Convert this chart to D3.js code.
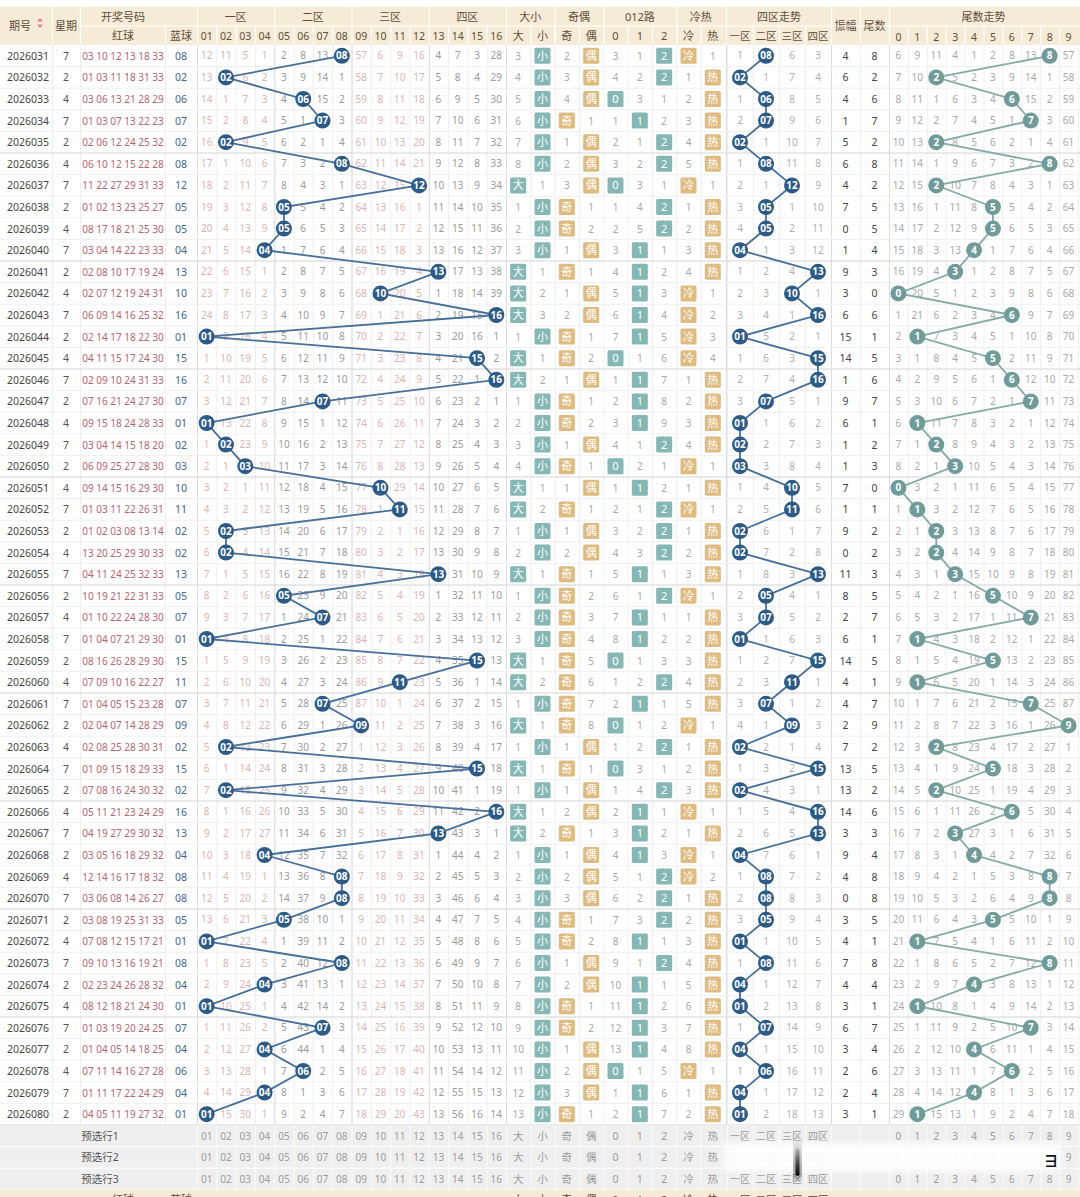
<!DOCTYPE html>
<html>
<head>
<meta charset="utf-8">
<script src="https://cdn.jsdelivr.net/npm/d3@7/dist/d3.min.js"></script>
<style>
  body { margin: 0; background: #fff; }
  svg { display: block; }
  text { font-family: "Noto Sans", "Noto Sans CJK SC", sans-serif; }
</style>
</head>
<body>
<div id="chart"></div>
<script>
var periods = ['2026031','2026032','2026033','2026034','2026035','2026036','2026037','2026038','2026039','2026040',
    '2026041','2026042','2026043','2026044','2026045','2026046','2026047','2026048','2026049','2026050',
    '2026051','2026052','2026053','2026054','2026055','2026056','2026057','2026058','2026059','2026060',
    '2026061','2026062','2026063','2026064','2026065','2026066','2026067','2026068','2026069','2026070',
    '2026071','2026072','2026073','2026074','2026075','2026076','2026077','2026078','2026079','2026080'];

var weekdays = [7,2,4,7,2,4,7,2,4,7, 2,4,7,2,4,7,2,4,7,2, 4,7,2,4,7,2,4,7,2,4, 7,2,4,7,2,4,7,2,4,7, 2,4,7,2,4,7,2,4,7,2];

var redBalls = [
    [3,10,12,13,18,33],[1,3,11,18,31,33],[3,6,13,21,28,29],[1,3,7,13,22,23],[2,6,12,24,25,32],
    [6,10,12,15,22,28],[11,22,27,29,31,33],[1,2,13,23,25,27],[8,17,18,21,25,30],[3,4,14,22,23,33],
    [2,8,10,17,19,24],[2,7,12,19,24,31],[6,9,14,16,25,32],[2,14,17,18,22,30],[4,11,15,17,24,30],
    [2,9,10,24,31,33],[7,16,21,24,27,30],[9,15,18,24,28,33],[3,4,14,15,18,20],[6,9,25,27,28,30],
    [9,14,15,16,29,30],[1,3,11,22,26,31],[1,2,3,8,13,14],[13,20,25,29,30,33],[4,11,24,25,32,33],
    [10,19,21,22,31,33],[1,10,22,24,28,30],[1,4,7,21,29,30],[8,16,26,28,29,30],[7,9,10,16,22,27],
    [1,4,5,15,23,28],[2,4,7,14,28,29],[2,8,25,28,30,31],[1,9,15,18,29,33],[7,8,16,24,30,32],
    [5,11,21,23,24,29],[4,19,27,29,30,32],[3,5,16,18,29,32],[12,14,16,17,18,32],[3,6,8,14,26,27],
    [3,8,19,25,31,33],[7,8,12,15,17,21],[9,10,13,16,19,21],[2,23,24,26,28,32],[8,12,18,21,24,30],
    [1,3,19,20,24,25],[1,4,5,14,18,25],[7,11,14,16,27,28],[1,11,17,22,24,29],[4,5,11,19,27,32]
];

var blueBalls = [8,2,6,7,2,8,12,5,5,4, 13,10,16,1,15,16,7,1,2,3, 10,11,2,2,13,5,7,1,15,11,
    7,9,2,15,2,16,13,4,8,8, 5,1,8,4,1,7,4,6,4,1];

var hotCold = ['冷','热','热','热','热','热','冷','热','热','热', '热','冷','冷','冷','冷','热','热','热','热','冷',
    '热','冷','热','热','热','冷','热','热','热','热', '热','冷','热','热','热','冷','热','冷','冷','热',
    '热','热','热','热','热','热','热','冷','热','热'];

// omission counts shown on the first row (0 = drawn)
var firstOmitBlue = [12,11,5,1, 2,8,13,0, 57,6,9,16, 4,7,3,28];
var firstOmitBigSmall = [3,0];
var firstOmitOddEven = [2,0];
var firstOmitMod3 = [3,1,0];
var firstOmitHotCold = [0,1];
var firstOmitZone = [1,0,6,3];
var firstOmitTail = [6,9,11,4,1,2,8,13,0,57];
var blueBefore = 4;   // 2026030 blue ball, for the first amplitude

var numLabels = d3.range(1, 17).map(function (n) { return n < 10 ? '0' + n : '' + n; });
var zoneGroups = ['一区','二区','三区','四区'];
var attrGroups = ['大小','奇偶','012路','冷热'];
var attrLabels = ['大','小','奇','偶','0','1','2','冷','热'];
var zoneLabels = ['一区','二区','三区','四区'];
var statLabels = ['振幅','尾数'];
var tailLabels = ['0','1','2','3','4','5','6','7','8','9'];
var preRows = ['预选行1','预选行2','预选行3'];

// ---- helpers ----
function pad(n) { return n < 10 ? '0' + n : '' + n; }

function omission(first, hits) {
    var out = [first.slice()];
    for (var i = 1; i < hits.length; i++) {
        out.push(out[i - 1].map(function (v, c) { return c === hits[i] ? 0 : v + 1; }));
    }
    return out;
}

var omBlue = omission(firstOmitBlue, blueBalls.map(function (b) { return b - 1; }));
var omBS = omission(firstOmitBigSmall, blueBalls.map(function (b) { return b >= 9 ? 0 : 1; }));
var omOE = omission(firstOmitOddEven, blueBalls.map(function (b) { return b % 2 ? 0 : 1; }));
var omM3 = omission(firstOmitMod3, blueBalls.map(function (b) { return b % 3; }));
var omHC = omission(firstOmitHotCold, hotCold.map(function (h) { return h === '冷' ? 0 : 1; }));
var omZone = omission(firstOmitZone, blueBalls.map(function (b) { return Math.floor((b - 1) / 4); }));
var omTail = omission(firstOmitTail, blueBalls.map(function (b) { return b % 10; }));

// ---- layout ----
var W = 1080, H = 1197;
var HT = 7, HM = 26, HB = 45;

var svg = d3.select('#chart').append('svg').attr('width', W).attr('height', H);

var y = d3.scaleBand().domain(periods).range([HB, 1125]);
var bw = y.bandwidth();
var yPre = d3.scaleBand().domain(preRows).range([1125, 1125 + 3 * bw]);

var xLeft = d3.scaleOrdinal().domain(['期号','星期','红球','蓝球']).range([[0, 52], [52, 80], [80, 165], [165, 197]]);
var xNum = d3.scaleBand().domain(numLabels).range([197, 506]);
var xAttr = d3.scaleBand().domain(attrLabels).range([506, 725]);
var xZone = d3.scaleBand().domain(zoneLabels).range([727, 831]);
var xStat = d3.scaleBand().domain(statLabels).range([831, 889]);
var xTail = d3.scaleBand().domain(tailLabels).range([889, 1078]);

function cx(scale, key) { return scale(key) + scale.bandwidth() / 2; }
function cy(p) { return y(p) + bw / 2; }

var TEAL = '#85b8b5', TAN = '#e0bb80', NAVY = '#2c5b87', NAVYLINE = '#46709a', TAILBALL = '#6f9b99', TAILLINE = '#86aaa8';

// ---- body grid ----
var body = svg.append('g');
body.append('rect').attr('x', 0).attr('y', HB).attr('width', W).attr('height', 1125 - HB).attr('fill', '#fff');

var vLines = [52, 80, 165, 197].concat(
    numLabels.map(function (k) { return xNum(k); }),
    attrLabels.map(function (k) { return xAttr(k); }),
    zoneLabels.map(function (k) { return xZone(k); }),
    statLabels.map(function (k) { return xStat(k); }),
    tailLabels.map(function (k) { return xTail(k); }), [1078]);
body.selectAll('.vl').data(vLines).enter().append('line')
    .attr('x1', function (d) { return d + 0.5; }).attr('x2', function (d) { return d + 0.5; })
    .attr('y1', HB).attr('y2', 1190)
    .attr('stroke', '#efefef');

var groupLines = [197, 274.25, 351.5, 428.75, 506, 726, 831, 889];
body.selectAll('.gl').data(groupLines).enter().append('line')
    .attr('x1', function (d) { return d + 0.5; }).attr('x2', function (d) { return d + 0.5; })
    .attr('y1', HB).attr('y2', 1125)
    .attr('stroke', '#dcdcdc');

body.selectAll('.hl').data(periods).enter().append('line')
    .attr('x1', 0).attr('x2', W)
    .attr('y1', function (p) { return y(p) + bw; }).attr('y2', function (p) { return y(p) + bw; })
    .attr('stroke', function (p, i) { return (i + 1) % 5 === 0 ? '#d4d4d4' : '#f0f0f0'; });

// ---- left columns ----
var rows = body.selectAll('.row').data(periods).enter().append('g');
rows.append('text').attr('x', 28).attr('y', function (p) { return cy(p) + 4; })
    .attr('text-anchor', 'middle').attr('font-size', 10.5).attr('fill', '#444')
    .text(function (p) { return p; });
rows.append('text').attr('x', 66).attr('y', function (p) { return cy(p) + 4; })
    .attr('text-anchor', 'middle').attr('font-size', 10.5).attr('fill', '#555')
    .text(function (p, i) { return weekdays[i]; });
rows.append('text').attr('x', 123).attr('y', function (p) { return cy(p) + 4; })
    .attr('text-anchor', 'middle').attr('font-size', 10).attr('fill', '#b8646e')
    .text(function (p, i) { return redBalls[i].map(pad).join(' '); });
rows.append('text').attr('x', 181).attr('y', function (p) { return cy(p) + 4; })
    .attr('text-anchor', 'middle').attr('font-size', 10.5).attr('fill', '#3d6690')
    .text(function (p, i) { return pad(blueBalls[i]); });

// ---- omission numbers 01-16 ----
var numCells = [];
periods.forEach(function (p, i) {
    omBlue[i].forEach(function (v, c) { if (v > 0) numCells.push({ p: p, c: c, v: v }); });
});
body.selectAll('.nc').data(numCells).enter().append('text')
    .attr('x', function (d) { return cx(xNum, numLabels[d.c]); })
    .attr('y', function (d) { return cy(d.p) + 3.5; })
    .attr('text-anchor', 'middle').attr('font-size', 10)
    .attr('fill', function (d) { return Math.floor(d.c / 4) % 2 === 0 ? '#dcb4b4' : '#9a9a9a'; })
    .text(function (d) { return d.v; });

// ---- attribute columns ----
var omAttr = periods.map(function (p, i) { return omBS[i].concat(omOE[i], omM3[i], omHC[i]); });
var attrCells = [];
periods.forEach(function (p, i) {
    omAttr[i].forEach(function (v, c) { attrCells.push({ p: p, c: c, v: v }); });
});
var ac = body.selectAll('.ac').data(attrCells).enter().append('g');
ac.filter(function (d) { return d.v === 0; }).append('rect')
    .attr('x', function (d) { return cx(xAttr, attrLabels[d.c]) - 8; })
    .attr('y', function (d) { return cy(d.p) - 8; })
    .attr('width', 16).attr('height', 16).attr('rx', 1.5)
    .attr('fill', function (d) { return (d.c < 2 || (d.c >= 4 && d.c < 7)) ? TEAL : TAN; });
ac.append('text')
    .attr('x', function (d) { return cx(xAttr, attrLabels[d.c]); })
    .attr('y', function (d) { return cy(d.p) + 4; })
    .attr('text-anchor', 'middle')
    .attr('font-size', function (d) { return d.v === 0 ? 11 : 10; })
    .attr('fill', function (d) { return d.v === 0 ? '#fff' : '#a8a8a8'; })
    .text(function (d) { return d.v === 0 ? attrLabels[d.c] : d.v; });

// ---- zone omissions ----
var zoneCells = [];
periods.forEach(function (p, i) {
    omZone[i].forEach(function (v, c) { if (v > 0) zoneCells.push({ p: p, c: c, v: v }); });
});
body.selectAll('.zc').data(zoneCells).enter().append('text')
    .attr('x', function (d) { return cx(xZone, zoneLabels[d.c]); })
    .attr('y', function (d) { return cy(d.p) + 3.5; })
    .attr('text-anchor', 'middle').attr('font-size', 10).attr('fill', '#b0b0b0')
    .text(function (d) { return d.v; });

// ---- amplitude and tail ----
rows.append('text').attr('x', cx(xStat, '振幅')).attr('y', function (p) { return cy(p) + 4; })
    .attr('text-anchor', 'middle').attr('font-size', 10.5).attr('fill', '#444')
    .text(function (p, i) { return Math.abs(blueBalls[i] - (i === 0 ? blueBefore : blueBalls[i - 1])); });
rows.append('text').attr('x', cx(xStat, '尾数')).attr('y', function (p) { return cy(p) + 4; })
    .attr('text-anchor', 'middle').attr('font-size', 10.5).attr('fill', '#444')
    .text(function (p, i) { return blueBalls[i] % 10; });

var tailCells = [];
periods.forEach(function (p, i) {
    omTail[i].forEach(function (v, c) { if (v > 0) tailCells.push({ p: p, c: c, v: v }); });
});
body.selectAll('.tc').data(tailCells).enter().append('text')
    .attr('x', function (d) { return cx(xTail, tailLabels[d.c]); })
    .attr('y', function (d) { return cy(d.p) + 3.5; })
    .attr('text-anchor', 'middle').attr('font-size', 10).attr('fill', '#a8a8a8')
    .text(function (d) { return d.v; });

// ---- trend lines and balls ----
var series = periods.map(function (p, i) { return { p: p, b: blueBalls[i] }; });

function trend(xf, lineColor, ballColor, label, r) {
    var line = d3.line().x(xf).y(function (d) { return cy(d.p); });
    body.append('path').datum(series).attr('d', line)
        .attr('fill', 'none').attr('stroke', lineColor).attr('stroke-width', 1.8);
    var g = body.selectAll(null).data(series).enter().append('g');
    g.append('circle').attr('cx', xf).attr('cy', function (d) { return cy(d.p); })
        .attr('r', r).attr('fill', ballColor);
    g.append('text').attr('x', xf).attr('y', function (d) { return cy(d.p) + 3.6; })
        .attr('text-anchor', 'middle').attr('font-size', 10).attr('font-weight', 'bold')
        .attr('fill', '#fff').text(label);
}

trend(function (d) { return cx(xNum, pad(d.b)); }, NAVYLINE, NAVY, function (d) { return pad(d.b); }, 8);
trend(function (d) { return cx(xZone, zoneLabels[Math.floor((d.b - 1) / 4)]); }, NAVYLINE, NAVY, function (d) { return pad(d.b); }, 8);
trend(function (d) { return cx(xTail, '' + (d.b % 10)); }, TAILLINE, TAILBALL, function (d) { return d.b % 10; }, 8);

// ---- header ----
var hdr = svg.append('g');
hdr.append('rect').attr('x', 0).attr('y', HT).attr('width', W).attr('height', HB - HT).attr('fill', '#f5ebd6');
var HC = '#5e4e3c';

function hText(x, yy, s, fs) {
    hdr.append('text').attr('x', x).attr('y', yy).attr('text-anchor', 'middle')
        .attr('font-size', fs || 11).attr('fill', HC).text(s);
}
function hLine(x, y1, y2) {
    hdr.append('line').attr('x1', x + 0.5).attr('x2', x + 0.5).attr('y1', y1).attr('y2', y2)
        .attr('stroke', '#fff').attr('stroke-width', 1.2);
}

var midY = (HT + HB) / 2 + 4, r1 = (HT + HM) / 2 + 4, r2 = (HM + HB) / 2 + 4;
hText(20, midY, '期号');
hdr.append('path').attr('d', 'M37,21.5 l3,-3.5 l3,3.5 z M37,24.5 l3,3.5 l3,-3.5 z').attr('fill', '#e07f86');
hText(66, midY, '星期');
hText(123, r1, '开奖号码');
hText(123, r2, '红球');
hText(181, r2, '蓝球');
[52, 80, 197, 506, 726, 831, 860, 889].forEach(function (x) { hLine(x, HT, HB); });
hLine(165, HM, HB);

zoneGroups.forEach(function (z, k) {
    var x0 = xNum(numLabels[k * 4]), x1 = xNum(numLabels[k * 4 + 3]) + xNum.bandwidth();
    hText((x0 + x1) / 2, r1, z);
    if (k > 0) hLine(x0, HT, HB);
});
numLabels.forEach(function (n, k) {
    hText(cx(xNum, n), r2, n, 10.5);
    if (k % 4) hLine(xNum(n), HM, HB);
});
var attrSpan = [[0, 2], [2, 4], [4, 7], [7, 9]];
attrGroups.forEach(function (g, k) {
    var x0 = xAttr(attrLabels[attrSpan[k][0]]), x1 = xAttr(attrLabels[attrSpan[k][1] - 1]) + xAttr.bandwidth();
    hText((x0 + x1) / 2, r1, g);
    if (k > 0) hLine(x0, HT, HB);
});
attrLabels.forEach(function (a, k) {
    hText(cx(xAttr, a), r2, a, 11);
    if (k > 0) hLine(xAttr(a), HM, HB);
});
hText((xZone.range()[0] + xZone.range()[1]) / 2, r1, '四区走势');
zoneLabels.forEach(function (z, k) {
    hText(cx(xZone, z), r2, z, 10.5);
    if (k > 0) hLine(xZone(z), HM, HB);
});
statLabels.forEach(function (s) { hText(cx(xStat, s), midY, s); });
hText((xTail.range()[0] + xTail.range()[1]) / 2, r1, '尾数走势');
tailLabels.forEach(function (t, k) {
    hText(cx(xTail, t), r2 + 1, t, 10.5);
    if (k > 0) hLine(xTail(t), HM, HB);
});
[HM].forEach(function (yy) {
    hdr.append('line').attr('x1', 80).attr('x2', W).attr('y1', yy).attr('y2', yy).attr('stroke', '#fff');
});

// ---- pre-selection rows ----
var pre = svg.append('g');
pre.append('rect').attr('x', 0).attr('y', 1125).attr('width', W).attr('height', 3 * bw).attr('fill', '#efefef');
preRows.forEach(function (r) {
    var yy = yPre(r) + bw / 2 + 4;
    pre.append('text').attr('x', 100).attr('y', yy).attr('text-anchor', 'middle')
        .attr('font-size', 10.5).attr('fill', '#555').text(r);
    numLabels.forEach(function (n) {
        pre.append('text').attr('x', cx(xNum, n)).attr('y', yy).attr('text-anchor', 'middle')
            .attr('font-size', 10).attr('fill', '#9c9c9c').text(n);
    });
    attrLabels.forEach(function (a) {
        pre.append('text').attr('x', cx(xAttr, a)).attr('y', yy).attr('text-anchor', 'middle')
            .attr('font-size', 10.5).attr('fill', '#9c9c9c').text(a);
    });
    zoneLabels.forEach(function (z) {
        pre.append('text').attr('x', cx(xZone, z)).attr('y', yy).attr('text-anchor', 'middle')
            .attr('font-size', 10).attr('fill', '#9c9c9c').text(z);
    });
    tailLabels.forEach(function (t) {
        pre.append('text').attr('x', cx(xTail, t)).attr('y', yy).attr('text-anchor', 'middle')
            .attr('font-size', 10).attr('fill', '#9c9c9c').text(t);
    });
    pre.append('line').attr('x1', 0).attr('x2', W).attr('y1', yPre(r) + bw).attr('y2', yPre(r) + bw).attr('stroke', '#fff');
});
vLines.forEach(function (x) {
    if (x < 197) return;
    pre.append('line').attr('x1', x + 0.5).attr('x2', x + 0.5).attr('y1', 1125).attr('y2', 1125 + 3 * bw).attr('stroke', '#fafafa');
});

// bottom header repeat, cut by the page edge
var bot = svg.append('g');
bot.append('rect').attr('x', 0).attr('y', 1125 + 3 * bw).attr('width', W).attr('height', 30).attr('fill', '#f5ebd6');
attrLabels.forEach(function (a) {
    bot.append('text').attr('x', cx(xAttr, a)).attr('y', 1204).attr('text-anchor', 'middle')
        .attr('font-size', 11).attr('fill', HC).text(a);
});
zoneLabels.forEach(function (z) {
    bot.append('text').attr('x', cx(xZone, z)).attr('y', 1204).attr('text-anchor', 'middle')
        .attr('font-size', 10.5).attr('fill', HC).text(z);
});
bot.append('text').attr('x', 123).attr('y', 1204).attr('text-anchor', 'middle').attr('font-size', 11).attr('fill', HC).text('红球');
bot.append('text').attr('x', 181).attr('y', 1204).attr('text-anchor', 'middle').attr('font-size', 11).attr('fill', HC).text('蓝球');

// blurred overlay over the pre-selection rows
var defs = svg.append('defs');
defs.append('filter').attr('id', 'blur').append('feGaussianBlur').attr('stdDeviation', 5);
var grad = defs.append('linearGradient').attr('id', 'bar').attr('x1', 0).attr('x2', 0).attr('y1', 0).attr('y2', 1);
grad.append('stop').attr('offset', '0%').attr('stop-color', '#000').attr('stop-opacity', 0.1);
grad.append('stop').attr('offset', '100%').attr('stop-color', '#000').attr('stop-opacity', 0.95);
svg.append('rect').attr('x', 725).attr('y', 1143).attr('width', 335).attr('height', 28)
    .attr('fill', '#fff').attr('opacity', 0.95).attr('filter', 'url(#blur)');
svg.append('rect').attr('x', 794).attr('y', 1140).attr('width', 7).attr('height', 38).attr('rx', 3)
    .attr('fill', 'url(#bar)').attr('filter', 'url(#blur)').attr('transform', null);
svg.append('rect').attr('x', 795.5).attr('y', 1148).attr('width', 4).attr('height', 28).attr('rx', 2)
    .attr('fill', 'url(#bar)');
svg.append('text').attr('x', 1051).attr('y', 1167).attr('text-anchor', 'middle')
    .attr('font-size', 16).attr('font-weight', 'bold').attr('fill', '#111').text('∃');
</script>
</body>
</html>
